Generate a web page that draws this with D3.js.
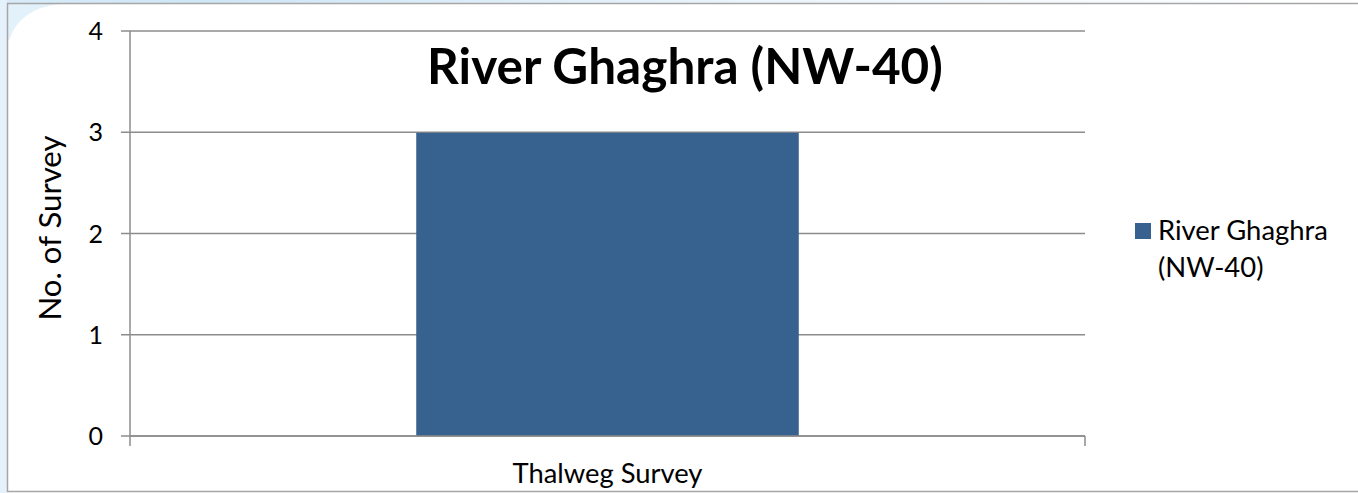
<!DOCTYPE html>
<html>
<head>
<meta charset="utf-8">
<script src="https://cdn.jsdelivr.net/npm/d3@7"></script>
<style>
html,body{margin:0;padding:0;background:#fff;overflow:hidden;}
svg{display:block;font-family:Lato,"Open Sans",sans-serif;}
</style>
</head>
<body>
<svg id="chart" width="1358" height="493"></svg>
<script>
const categories = ["Thalweg Survey"];
const seriesName = "River Ghaghra (NW-40)";
const seriesValues = [3];
const yTicks = [0, 1, 2, 3, 4];
const chartTitle = "River Ghaghra (NW-40)";
const yAxisTitle = "No. of Survey";
const legendLines = ["River Ghaghra", "(NW-40)"];

const W = 1358, H = 493;
const svg = d3.select("#chart");
const defs = svg.append("defs");
const lg = defs.append("linearGradient").attr("id", "topbg").attr("x1", 0).attr("x2", 1);
lg.append("stop").attr("offset", "0%").attr("stop-color", "#d8ecf8");
lg.append("stop").attr("offset", "15%").attr("stop-color", "#cfe6f6");
lg.append("stop").attr("offset", "60%").attr("stop-color", "#eef6fc");
lg.append("stop").attr("offset", "100%").attr("stop-color", "#ffffff");
const rg = defs.append("radialGradient").attr("id", "corner").attr("cx", 0).attr("cy", 0).attr("r", 1);
rg.append("stop").attr("offset", "0%").attr("stop-color", "#d6ebf8");
rg.append("stop").attr("offset", "100%").attr("stop-color", "#ffffff");

// background strip above / left of frame
svg.append("rect").attr("x", 0).attr("y", 0).attr("width", W).attr("height", 4).attr("fill", "url(#topbg)");
svg.append("rect").attr("x", 0).attr("y", 0).attr("width", 7).attr("height", H).attr("fill", "#e6f2fb");
svg.append("path").attr("d", "M8,4 L60,4 Q20,8 9,40 L8,40 Z").attr("fill", "#e3f1fb");

// frame
svg.append("path")
  .attr("d", `M${W + 2},3.5 H7.5 V491.5 H${W + 2}`)
  .attr("fill", "none").attr("stroke", "#a6a6a6").attr("stroke-width", 1.5);

const m = {left: 130, right: 1085, top: 31, bottom: 436};
const x = d3.scaleBand().domain(categories).range([m.left, m.right]).paddingInner(0.428).paddingOuter(0.428);
const y = d3.scaleLinear().domain([0, 4]).range([m.bottom, m.top]);

const gridColor = "#8c8c8c";
// gridlines
svg.append("g").selectAll("line").data(yTicks).join("line")
  .attr("x1", m.left - 9).attr("x2", m.right)
  .attr("y1", d => y(d)).attr("y2", d => y(d))
  .attr("stroke", gridColor).attr("stroke-width", 1.5);

// bar
svg.append("g").selectAll("rect").data(seriesValues).join("rect")
  .attr("x", (d, i) => x(categories[i]))
  .attr("y", d => y(d) + 0.5)
  .attr("width", x.bandwidth())
  .attr("height", d => y(0) - y(d) - 0.5)
  .attr("fill", "#37618f");

// y axis line
svg.append("line").attr("x1", m.left).attr("x2", m.left).attr("y1", m.top).attr("y2", m.bottom + 10)
  .attr("stroke", gridColor).attr("stroke-width", 1.5);
// x axis line + boundary ticks
svg.append("line").attr("x1", m.left).attr("x2", m.right).attr("y1", m.bottom).attr("y2", m.bottom)
  .attr("stroke", gridColor).attr("stroke-width", 1.5);
svg.append("line").attr("x1", m.right).attr("x2", m.right).attr("y1", m.bottom).attr("y2", m.bottom + 10)
  .attr("stroke", gridColor).attr("stroke-width", 1.5);

// y tick labels
svg.append("g").selectAll("text").data(yTicks).join("text")
  .attr("x", 103).attr("y", d => y(d) + 9)
  .attr("text-anchor", "end").attr("font-size", 25).attr("fill", "#000")
  .text(d => d);

function fit(sel, target) {
  const fs = +sel.attr("font-size");
  const w = sel.node().getComputedTextLength();
  sel.attr("font-size", fs * target / w);
}

// x category label
const cl = svg.append("g").selectAll("text").data(categories).join("text")
  .attr("x", d => x(d) + x.bandwidth() / 2).attr("y", 483)
  .attr("text-anchor", "middle").attr("font-size", 23).attr("fill", "#000")
  .text(d => d);
cl.each(function () { fit(d3.select(this), 190); });

// y axis title
const yt = svg.append("text")
  .attr("transform", "translate(61,228) rotate(-90)")
  .attr("text-anchor", "middle").attr("font-size", 25).attr("fill", "#000")
  .text(yAxisTitle);
fit(yt, 185);

// chart title
const tt = svg.append("text")
  .attr("x", 685).attr("y", 84)
  .attr("text-anchor", "middle").attr("font-size", 44).attr("font-weight", "bold").attr("fill", "#000")
  .text(chartTitle);
fit(tt, 516);

// legend
const leg = svg.append("g");
leg.append("rect").attr("x", 1135).attr("y", 223).attr("width", 16).attr("height", 16).attr("fill", "#37618f");
const lt = leg.selectAll("text").data(legendLines).join("text")
  .attr("x", 1158).attr("y", (d, i) => 240 + i * 37)
  .attr("font-size", 23).attr("fill", "#000")
  .text(d => d);
const first = d3.select(lt.nodes()[0]);
fit(first, 170);
lt.attr("font-size", first.attr("font-size"));
</script>
</body>
</html>
